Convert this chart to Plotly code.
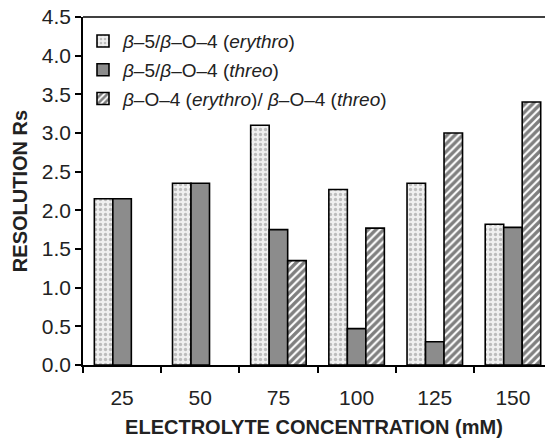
import plotly.graph_objects as go

categories = ["25", "50", "75", "100", "125", "150"]
erythro = [2.15, 2.35, 3.10, 2.27, 2.35, 1.82]
threo = [2.15, 2.35, 1.75, 0.47, 0.30, 1.78]
ratio = [None, None, 1.35, 1.77, 3.00, 3.40]

names = [
    "<i>β</i>–5/<i>β</i>–O–4 (<i>erythro</i>)",
    "<i>β</i>–5/<i>β</i>–O–4 (<i>threo</i>)",
    "<i>β</i>–O–4 (<i>erythro</i>)/ <i>β</i>–O–4 (<i>threo</i>)",
]

fig = go.Figure()
fig.add_trace(go.Bar(
    x=categories, y=erythro, name=names[0], legendgroup="a",
    marker=dict(color="#ececec", line=dict(color="black", width=1.6),
                pattern=dict(shape=".", fgcolor="#888888", bgcolor="#f0f0f0",
                             size=5, solidity=0.35)),
))
fig.add_trace(go.Bar(
    x=categories, y=threo, name=names[1], legendgroup="b",
    marker=dict(color="#8c8c8c", line=dict(color="black", width=1.6)),
))
fig.add_trace(go.Bar(
    x=categories, y=ratio, name=names[2], legendgroup="c",
    marker=dict(color="white", line=dict(color="black", width=1.6),
                pattern=dict(shape="/", fgcolor="black", bgcolor="white",
                             size=5.5, solidity=0.6)),
))

font = "Liberation Sans, Arial, sans-serif"
fig.update_layout(
    width=545, height=441,
    margin=dict(l=83, r=0, t=17, b=76),
    paper_bgcolor="white", plot_bgcolor="white",
    barmode="group", bargap=0.29, bargroupgap=0,
    font=dict(family=font, size=21, color="#222"),
    showlegend=True,
    legend=dict(x=0.0, y=0.985, xanchor="left", yanchor="top",
                bgcolor="rgba(0,0,0,0)", font=dict(size=19, color="#222"),
                tracegroupgap=1, itemwidth=30),
    xaxis=dict(
        range=[-0.5, 5.41], showline=True, linecolor="black", linewidth=1.6,
        ticks="outside", tickson="boundaries", ticklen=6, tickcolor="black",
        tickwidth=1.6, mirror=False, ticklabelstandoff=13,
        tickfont=dict(size=21),
        title=dict(text="<b>ELECTROLYTE CONCENTRATION (mM)</b>",
                   font=dict(size=20, color="#222"), standoff=12),
    ),
    yaxis=dict(
        range=[0, 4.5], showline=True, linecolor="black", linewidth=1.6,
        ticks="outside", ticklen=6, tickcolor="black", tickwidth=1.6,
        dtick=0.5, tickformat=".1f", showgrid=False, zeroline=False,
        tickfont=dict(size=21),
        title=dict(text="<b>RESOLUTION Rs</b>", font=dict(size=20, color="#222"),
                   standoff=9),
    ),
)
# top border line
fig.add_shape(type="line", xref="paper", yref="paper", x0=0, x1=1, y0=1, y1=1,
              line=dict(color="black", width=1.6))

fig.write_html("out.html")
